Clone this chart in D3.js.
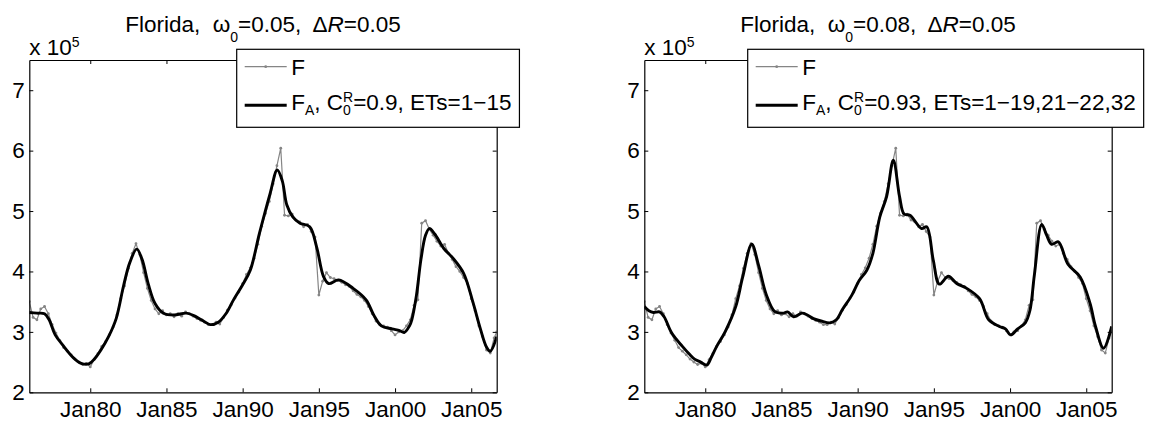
<!DOCTYPE html>
<html>
<head>
<meta charset="utf-8">
<script src="https://cdn.jsdelivr.net/npm/d3@7"></script>
<style>
  body { margin: 0; background: #fff; }
  text { font-family: "Liberation Sans", Arial, sans-serif; fill: #000; }
</style>
</head>
<body>
<div id="chart"></div>
<script>
// axis ticks
const xTickYears = [1980, 1985, 1990, 1995, 2000, 2005];
const xTickLabels = ["Jan80", "Jan85", "Jan90", "Jan95", "Jan00", "Jan05"];
const yTickValues = [2, 3, 4, 5, 6, 7];

// F (raw series, same in both panels), quarterly from Jan 1976, last point Sep 2006
const fYears = d3.range(1976, 2006.51, 0.25).concat([2006.67]);
const fValues = [
  3.50, 3.24, 3.20, 3.38,  3.42, 3.30, 3.12, 2.98,  2.86, 2.74, 2.68, 2.62,
  2.55, 2.50, 2.46, 2.48,  2.42, 2.54, 2.64, 2.76,  2.84, 2.95, 3.08, 3.28,
  3.55, 3.76, 4.05, 4.30,  4.46, 4.28, 3.98, 3.72,  3.52, 3.38, 3.30, 3.35,
  3.28, 3.30, 3.25, 3.30,  3.26, 3.33, 3.30, 3.26,  3.22, 3.19, 3.16, 3.12,
  3.12, 3.16, 3.13, 3.24,  3.36, 3.45, 3.56, 3.66,  3.80, 3.95, 4.06, 4.22,
  4.45, 4.75, 4.96, 5.16,  5.45, 5.75, 6.04, 4.93,  4.92, 4.95, 4.85, 4.82,
  4.74, 4.78, 4.66, 4.57,  3.61, 3.84, 3.98, 3.90,  3.88, 3.85, 3.82, 3.78,
  3.75, 3.68, 3.62, 3.58,  3.52, 3.42, 3.30, 3.18,  3.12, 3.10, 3.08, 3.02,
  2.95, 3.00, 3.02, 3.10,  3.20, 3.44, 3.53, 4.80,  4.84, 4.70, 4.60, 4.50,
  4.42, 4.45, 4.30, 4.20,  4.08, 4.00, 3.90, 3.80,  3.55, 3.35, 3.10, 2.92,
  2.70, 2.65, 2.90, 3.00
];

// F_A, left panel (w0=0.05)
const faYearsLeft = [1976.0, 1976.5, 1977.0, 1977.3, 1977.7, 1978.2, 1978.9, 1979.4, 1979.9, 1980.3,
  1980.7, 1981.2, 1981.7, 1982.2, 1982.6, 1983.05, 1983.4, 1983.8, 1984.25, 1984.8,
  1985.5, 1986.3, 1986.8, 1987.3, 1987.9, 1988.4, 1988.9, 1989.4, 1990.0, 1990.5,
  1991.1, 1991.8, 1992.27, 1992.6, 1992.9, 1993.3, 1993.76, 1994.4, 1994.86, 1995.3,
  1995.65, 1996.3, 1997.25, 1998.1, 1998.6, 1999.1, 1999.8, 2000.3, 2000.6, 2000.95,
  2001.1, 2001.4, 2001.7, 2002.0, 2002.25, 2002.6, 2003.2, 2003.8, 2004.5, 2005.1,
  2005.6, 2006.0, 2006.25, 2006.67];
const faValuesLeft = [3.32, 3.31, 3.30, 3.20, 2.95, 2.78, 2.57, 2.48, 2.47, 2.56,
  2.70, 2.92, 3.22, 3.78, 4.15, 4.37, 4.20, 3.80, 3.47, 3.31,
  3.28, 3.31, 3.27, 3.20, 3.12, 3.16, 3.30, 3.53, 3.78, 4.02,
  4.63, 5.29, 5.68, 5.50, 5.10, 4.90, 4.80, 4.74, 4.40, 3.92,
  3.80, 3.86, 3.72, 3.53, 3.28, 3.10, 3.05, 3.02, 2.99, 3.10,
  3.20, 3.60, 4.20, 4.60, 4.71, 4.62, 4.38, 4.22, 3.97, 3.50,
  3.05, 2.75, 2.68, 2.92];

// F_A, right panel (w0=0.08)
const faYearsRight = [1976.0, 1976.3, 1976.6, 1977.0, 1977.3, 1977.8, 1978.5, 1979.0, 1979.3, 1979.7,
  1980.1, 1980.4, 1980.75, 1981.3, 1982.0, 1982.45, 1983.05, 1983.5, 1984.0, 1984.55,
  1985.1, 1985.4, 1985.8, 1986.35, 1986.7, 1987.1, 1987.6, 1988.2, 1988.6, 1989.0,
  1989.6, 1990.1, 1990.6, 1991.0, 1991.45, 1991.9, 1992.34, 1992.75, 1993.05, 1993.43,
  1994.2, 1994.53, 1994.96, 1995.36, 1995.95, 1996.5, 1997.16, 1998.0, 1998.6, 1999.3,
  1999.7, 2000.04, 2000.5, 2001.0, 2001.3, 2001.6, 2002.08, 2002.4, 2002.73, 2003.17,
  2003.8, 2004.6, 2005.25, 2005.6, 2006.14, 2006.67];
const faValuesRight = [3.42, 3.35, 3.32, 3.33, 3.25, 2.98, 2.76, 2.62, 2.55, 2.50,
  2.45, 2.58, 2.76, 3.00, 3.42, 3.90, 4.45, 4.10, 3.62, 3.34,
  3.31, 3.33, 3.25, 3.31, 3.28, 3.22, 3.18, 3.15, 3.20, 3.37,
  3.60, 3.85, 4.02, 4.30, 4.90, 5.24, 5.84, 5.24, 4.95, 4.93,
  4.71, 4.74, 4.19, 3.79, 3.92, 3.80, 3.72, 3.55, 3.20, 3.09,
  3.05, 2.95, 3.05, 3.15, 3.35, 3.95, 4.78, 4.60, 4.45, 4.49,
  4.12, 3.91, 3.47, 3.10, 2.73, 3.09];

const panels = [
  { id: "l", left: 29.3, omega: "0.05", cr: "0.9", ets: "1\u221215",
    faYears: faYearsLeft, faValues: faValuesLeft, legendLeft: 207.4 },
  { id: "r", left: 644.3, omega: "0.08", cr: "0.93", ets: "1\u221219,21\u221222,32",
    faYears: faYearsRight, faValues: faValuesRight, legendLeft: 103.4 }
];

const W = 1164, H = 421;
const plotW = 467.4, plotH = 332.3, plotTop = 60;
const fontSize = 22.5, smallSize = 14;
const grey = "#858585";

const svg = d3.select("#chart").append("svg")
    .attr("width", W)
    .attr("height", H);

// writes a run of text pieces (normal / sub / sup), returns end x
function richText(parent, x0, y0, parts, subShift) {
    let cx = x0;
    let stackStart = null, stackW = 0;
    parts.forEach(p => {
        const small = p.pos === "sub" || p.pos === "sup";
        const dy = p.pos === "sub" ? subShift : (p.pos === "sup" ? -8.5 : 0);
        const px = stackStart !== null ? stackStart : cx;
        const t = parent.append("text")
            .attr("x", px)
            .attr("y", y0 + dy)
            .attr("font-size", small ? smallSize : fontSize)
            .style("white-space", "pre")
            .style("font-style", p.italic ? "italic" : null)
            .text(p.t);
        const w = t.node().getComputedTextLength();
        if (p.stack) {
            // next piece is placed on top of this one
            stackStart = cx;
            stackW = w;
        } else if (stackStart !== null) {
            cx = stackStart + Math.max(stackW, w);
            stackStart = null;
        } else {
            cx += w;
        }
    });
    return cx;
}

panels.forEach(p => {
    const x = d3.scaleLinear().domain([1976, 2006.67]).range([0, plotW]);
    const y = d3.scaleLinear().domain([2, 7.5]).range([plotH, 0]);

    const g = svg.append("g").attr("transform", `translate(${p.left},${plotTop})`);

    g.append("clipPath").attr("id", "clip-" + p.id)
      .append("rect").attr("width", plotW).attr("height", plotH);

    // raw F series: thin grey line with point markers
    const fData = fYears.map((t, i) => [t, fValues[i]]);
    const plotArea = g.append("g").attr("clip-path", `url(#clip-${p.id})`);
    plotArea.append("path")
        .datum(fData)
        .attr("d", d3.line().x(d => x(d[0])).y(d => y(d[1])))
        .attr("fill", "none")
        .attr("stroke", grey)
        .attr("stroke-width", 1.2);
    plotArea.selectAll("circle.f")
        .data(fData)
        .join("circle")
        .attr("class", "f")
        .attr("cx", d => x(d[0]))
        .attr("cy", d => y(d[1]))
        .attr("r", 1.4)
        .attr("fill", grey);

    // smoothed F_A
    const faData = p.faYears.map((t, i) => [t, p.faValues[i]]);
    plotArea.append("path")
        .datum(faData)
        .attr("d", d3.line().x(d => x(d[0])).y(d => y(d[1])).curve(d3.curveCatmullRom.alpha(0.5)))
        .attr("fill", "none")
        .attr("stroke", "#000")
        .attr("stroke-width", 2.9)
        .attr("stroke-linejoin", "round");

    // axes, MATLAB style box with inward ticks
    const styleAxis = a => {
        a.attr("font-size", fontSize).attr("font-family", '"Liberation Sans", Arial, sans-serif');
        a.select(".domain").attr("stroke", "#000").attr("stroke-width", 1.2);
        a.selectAll(".tick line").attr("stroke", "#000");
        a.selectAll(".tick text").attr("fill", "#000");
    };
    g.append("g")
        .attr("transform", `translate(0,${plotH})`)
        .call(d3.axisBottom(x).tickValues(xTickYears)
            .tickFormat((d, i) => xTickLabels[i]).tickSizeInner(-4).tickSizeOuter(0).tickPadding(9))
        .call(styleAxis);
    g.append("g")
        .call(d3.axisTop(x).tickValues(xTickYears).tickFormat("").tickSizeInner(-4).tickSizeOuter(0))
        .call(styleAxis);
    g.append("g")
        .call(d3.axisLeft(y).tickValues(yTickValues).tickFormat(d3.format("d"))
            .tickSizeInner(-4).tickSizeOuter(0).tickPadding(4.5))
        .call(styleAxis);
    g.append("g")
        .attr("transform", `translate(${plotW},0)`)
        .call(d3.axisRight(y).tickValues(yTickValues).tickFormat("").tickSizeInner(-4).tickSizeOuter(0))
        .call(styleAxis);

    // exponent label
    richText(g, 0, -5, [{ t: "x 10" }, { t: "5", pos: "sup" }], 0);

    // title
    const title = g.append("g");
    const tw = richText(title, 0, 31.7 - plotTop, [
        { t: "Florida,  \u03c9" }, { t: "0", pos: "sub" },
        { t: "=" + p.omega + ",  \u0394" }, { t: "R", italic: true }, { t: "=0.05" }
    ], 10);
    title.attr("transform", `translate(${plotW / 2 - tw / 2},0)`);

    // legend
    const lg = g.append("g").attr("transform", `translate(${p.legendLeft},${49.3 - plotTop})`);
    const box = lg.append("rect");
    lg.append("line")
        .attr("x1", 8).attr("x2", 50).attr("y1", 17.4).attr("y2", 17.4)
        .attr("stroke", grey).attr("stroke-width", 1.2);
    lg.append("circle").attr("cx", 29).attr("cy", 17.4).attr("r", 1.4).attr("fill", grey);
    lg.append("line")
        .attr("x1", 8).attr("x2", 50).attr("y1", 56).attr("y2", 56)
        .attr("stroke", "#000").attr("stroke-width", 2.9);
    richText(lg, 54.5, 25.7, [{ t: "F" }], 0);
    const endX = richText(lg, 54.5, 60.9, [
        { t: "F" }, { t: "A", pos: "sub" }, { t: ", C" },
        { t: "R", pos: "sup", stack: true }, { t: "0", pos: "sub" },
        { t: "=" + p.cr + ", ETs=" + p.ets }
    ], 5);
    box.attr("width", endX + 8).attr("height", 78)
        .attr("fill", "#fff").attr("stroke", "#000").attr("stroke-width", 1.2);
});
</script>
</body>
</html>
